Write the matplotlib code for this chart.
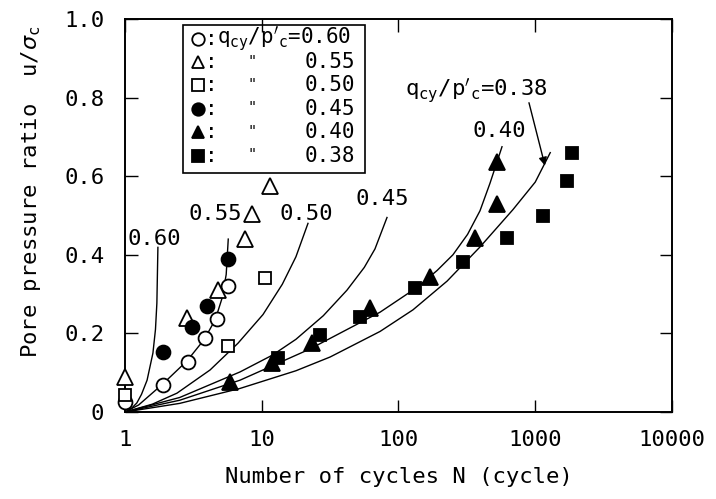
import numpy as np
import matplotlib
matplotlib.use('Agg')
import matplotlib.pyplot as plt
from matplotlib.patches import Rectangle

# fonts
plt.rcParams['font.family'] = ['DejaVu Sans Mono', 'DejaVu Sans']
plt.rcParams['font.size'] = 16
plt.rcParams['mathtext.fontset'] = 'dejavusans'

# measured points (N, u/sigma_c)
n60 = [1.0, 1.9, 2.9, 3.85, 4.7, 5.7]
u60 = [0.025, 0.07, 0.127, 0.188, 0.236, 0.32]
n55 = [1.0, 2.84, 4.78, 7.5, 8.5, 11.5]
u55 = [0.089, 0.24, 0.31, 0.44, 0.505, 0.576]
n50 = [1.0, 5.66, 10.6]
u50 = [0.043, 0.168, 0.34]
n45 = [1.9, 3.1, 3.98, 5.66]
u45 = [0.152, 0.216, 0.27, 0.39]
n40 = [5.85, 11.9, 23.3, 62, 170, 362, 525, 525]
u40 = [0.076, 0.124, 0.175, 0.264, 0.343, 0.444, 0.53, 0.635]
n38 = [13.1, 26.7, 52, 133, 297, 620, 1140, 1720, 1860]
u38 = [0.137, 0.195, 0.241, 0.315, 0.381, 0.442, 0.50, 0.589, 0.66]

# fitted curves
cn60 = [1.0, 1.12, 1.22, 1.32, 1.45, 1.60, 1.67, 1.71, 1.74]
cu60 = [0.0, 0.01, 0.023, 0.045, 0.081, 0.15, 0.21, 0.277, 0.419]
cn55 = [1.0, 1.259, 1.897, 2.838, 3.802, 4.571, 5.129, 5.495, 5.689]
cu55 = [0.0, 0.018, 0.072, 0.13, 0.185, 0.235, 0.29, 0.35, 0.44]
cn50 = [1.0, 1.585, 2.399, 4.188, 6.699, 10.21, 14.13, 17.78, 21.78]
cu50 = [0.0, 0.02, 0.048, 0.107, 0.175, 0.248, 0.325, 0.395, 0.48]
cn45 = [1.0, 2.512, 6.934, 12.0, 17.78, 28.18, 41.98, 56.23, 67.3, 82.41]
cu45 = [0.0, 0.037, 0.102, 0.145, 0.185, 0.245, 0.31, 0.368, 0.415, 0.495]
cn40 = [1.0, 2.512, 6.934, 22.39, 73.28, 136.5, 191.4, 250.0, 320.0, 394.5, 466.7, 571.5]
cu40 = [0.0, 0.03, 0.081, 0.16, 0.254, 0.317, 0.36, 0.40, 0.452, 0.512, 0.582, 0.675]
cn38 = [1.0, 2.512, 6.934, 17.78, 31.62, 73.28, 127.6, 226.5, 394.5, 687.1, 1000, 1288]
cu38 = [0.0, 0.022, 0.06, 0.105, 0.14, 0.205, 0.26, 0.333, 0.42, 0.515, 0.585, 0.66]

legend_vals = ['0.60', '0.55', '0.50', '0.45', '0.40', '0.38']
qlabel = r"$\mathtt{q}_{\mathtt{cy}}\mathtt{/p}'_{\mathtt{c}}$"

fig = plt.figure(figsize=(7.16, 4.99), dpi=100)
ax = fig.add_axes([0.1746, 0.1743, 0.7639, 0.7876])

lw = 1.0
for cn, cu in [(cn60, cu60), (cn55, cu55), (cn50, cu50),
               (cn45, cu45), (cn40, cu40), (cn38, cu38)]:
    ax.plot(cn, cu, color='black', lw=lw, zorder=2)

ms = 10
mew = 1.3
ax.plot(n60, u60, 'o', ms=ms, mfc='white', mec='black', mew=mew, ls='none', clip_on=False, zorder=3)
ax.plot(n55, u55, '^', ms=ms + 1, mfc='white', mec='black', mew=mew, ls='none', clip_on=False, zorder=3)
ax.plot(n50, u50, 's', ms=ms - 1, mfc='white', mec='black', mew=mew, ls='none', clip_on=False, zorder=3)
ax.plot(n45, u45, 'o', ms=ms, mfc='black', mec='black', mew=mew, ls='none', clip_on=False, zorder=3)
ax.plot(n40, u40, '^', ms=ms + 2, mfc='black', mec='black', mew=mew, ls='none', clip_on=False, zorder=3)
ax.plot(n38, u38, 's', ms=ms - 1, mfc='black', mec='black', mew=mew, ls='none', clip_on=False, zorder=3)

ax.set_xscale('log')
ax.set_xlim(1, 10000)
ax.set_ylim(0, 1.0)
ax.set_xticks([1, 10, 100, 1000, 10000])
ax.set_xticklabels(['1', '10', '100', '1000', '10000'])
ax.set_yticks([0, 0.2, 0.4, 0.6, 0.8, 1.0])
ax.set_yticklabels(['0', '0.2', '0.4', '0.6', '0.8', '1.0'])
ax.minorticks_off()
ax.tick_params(direction='in', length=9, width=1.0, top=True, right=True)
ax.tick_params(axis='x', pad=13)
ax.tick_params(axis='y', pad=15)
for s in ax.spines.values():
    s.set_linewidth(1.4)

ax.set_xlabel('Number of cycles N (cycle)')
ax.set_ylabel(r'Pore pressure ratio  u/$\sigma_{\mathtt{c}}$')
ax.xaxis.set_label_coords(0.5, -0.14)
ax.yaxis.set_label_coords(-0.15, 0.56)

# curve labels
ax.text(1.05, 0.44, '0.60', ha='left', va='center')
ax.text(4.6, 0.505, '0.55', ha='center', va='center')
ax.text(21, 0.505, '0.50', ha='center', va='center')
ax.text(76, 0.543, '0.45', ha='center', va='center')
ax.text(545, 0.716, '0.40', ha='center', va='center')
ax.text(370, 0.817, qlabel + '=0.38', ha='center', va='center')
ax.annotate('', xy=(1178, 0.627), xytext=(900, 0.787),
            arrowprops=dict(arrowstyle='-|>', color='black', lw=1.0,
                            mutation_scale=12, shrinkA=0, shrinkB=0))

# legend box drawn in axes fraction
ax.add_patch(Rectangle((0.106, 0.608), 0.333, 0.378, transform=ax.transAxes,
                       fill=False, ec='black', lw=1.2, zorder=4))
styles = [('o', 'white'), ('^', 'white'), ('s', 'white'),
          ('o', 'black'), ('^', 'black'), ('s', 'black')]
for i, ((mk, fc), v) in enumerate(zip(styles, legend_vals)):
    yy = 0.95 - i * 0.0595
    ax.plot([0.133], [yy], mk, ms=9, mfc=fc, mec='black', mew=1.3,
            transform=ax.transAxes, clip_on=False, zorder=5)
    ax.text(0.158, yy, ':', transform=ax.transAxes, ha='center', va='center', fontsize=15)
    if i == 0:
        ax.text(0.168, yy, qlabel + '=' + v, transform=ax.transAxes,
                ha='left', va='center', fontsize=15)
    else:
        ax.text(0.232, yy, '"', transform=ax.transAxes, ha='center', va='center', fontsize=11)
        ax.text(0.42, yy, v, transform=ax.transAxes, ha='right', va='center', fontsize=15)

fig.savefig('out.png', dpi=100)
